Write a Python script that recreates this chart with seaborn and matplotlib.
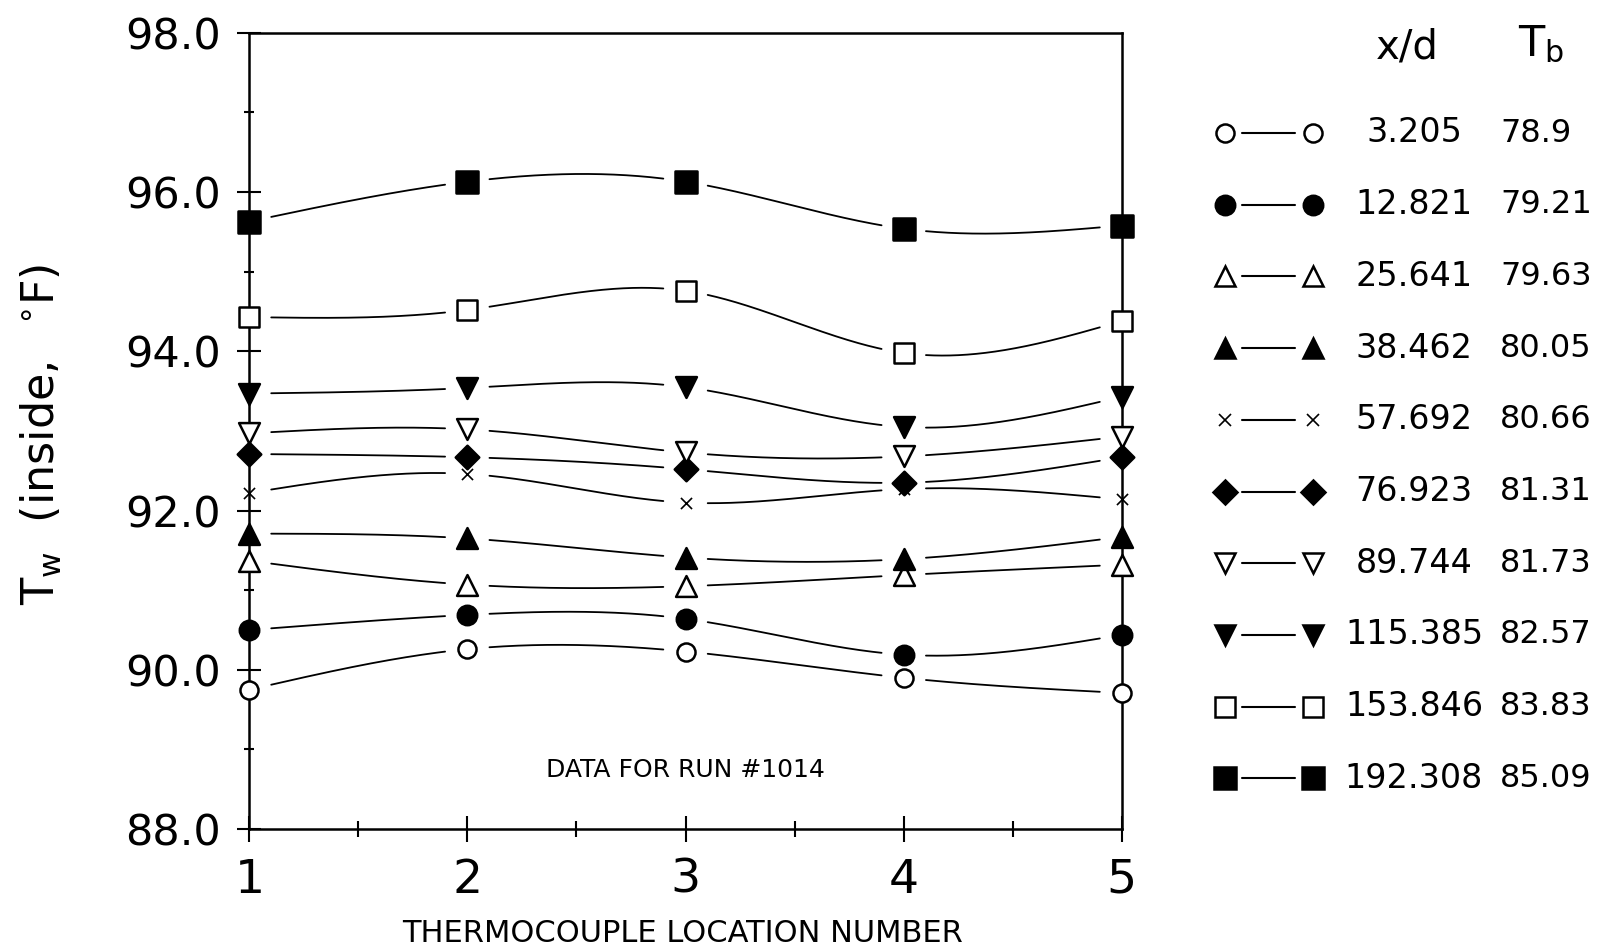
import numpy as np
import matplotlib
matplotlib.use("Agg")
import matplotlib.pyplot as plt
import seaborn as sns
from matplotlib import font_manager

# ---- data -------------------------------------------------------------
locations = [1, 2, 3, 4, 5]
x_over_d = [3.205, 12.821, 25.641, 38.462, 57.692, 76.923, 89.744, 115.385, 153.846, 192.308]
t_bulk = [78.9, 79.21, 79.63, 80.05, 80.66, 81.31, 81.73, 82.57, 83.83, 85.09]

tw_3205 = [89.75, 90.26, 90.23, 89.90, 89.71]
tw_12821 = [90.50, 90.69, 90.64, 90.19, 90.44]
tw_25641 = [91.37, 91.07, 91.05, 91.19, 91.32]
tw_38462 = [91.71, 91.65, 91.41, 91.39, 91.67]
tw_57692 = [92.22, 92.46, 92.10, 92.27, 92.14]
tw_76923 = [92.71, 92.67, 92.52, 92.35, 92.67]
tw_89744 = [92.97, 93.02, 92.73, 92.68, 92.93]
tw_115385 = [93.47, 93.54, 93.55, 93.05, 93.43]
tw_153846 = [94.43, 94.52, 94.76, 93.98, 94.38]
tw_192308 = [95.63, 96.13, 96.13, 95.54, 95.58]

y_ticks = [88.0, 90.0, 92.0, 94.0, 96.0, 98.0]

series = [tw_3205, tw_12821, tw_25641, tw_38462, tw_57692,
          tw_76923, tw_89744, tw_115385, tw_153846, tw_192308]

# marker, filled?, size (pt)
styles = [("o", False, 13), ("o", True, 14), ("^", False, 15), ("^", True, 15),
          ("x", True, 8), ("D", True, 12), ("v", False, 15), ("v", True, 15),
          ("s", False, 15), ("s", True, 16)]

# ---- style ------------------------------------------------------------
sns.set_theme(style="white")
names = set(font_manager.get_font_names())
narrow = "Liberation Sans Narrow" if "Liberation Sans Narrow" in names else "DejaVu Sans"
plt.rcParams["font.family"] = ["DejaVu Sans"]
plt.rcParams["mathtext.fontset"] = "dejavusans"


def natural_cubic(x, y, xs):
    x = np.asarray(x, float)
    y = np.asarray(y, float)
    n = len(x)
    h = np.diff(x)
    A = np.zeros((n, n))
    b = np.zeros(n)
    A[0, 0] = A[-1, -1] = 1.0
    for i in range(1, n - 1):
        A[i, i - 1] = h[i - 1]
        A[i, i] = 2 * (h[i - 1] + h[i])
        A[i, i + 1] = h[i]
        b[i] = 6 * ((y[i + 1] - y[i]) / h[i] - (y[i] - y[i - 1]) / h[i - 1])
    M = np.linalg.solve(A, b)
    idx = np.clip(np.searchsorted(x, xs) - 1, 0, n - 2)
    x0, x1 = x[idx], x[idx + 1]
    hh = x1 - x0
    t0, t1 = x1 - xs, xs - x0
    return ((M[idx] * t0 ** 3 + M[idx + 1] * t1 ** 3) / (6 * hh)
            + (y[idx] / hh - M[idx] * hh / 6) * t0
            + (y[idx + 1] / hh - M[idx + 1] * hh / 6) * t1)


fig = plt.figure(figsize=(16.09, 9.51), dpi=100)
fig.patch.set_facecolor("white")
ax = fig.add_axes([0.1550, 0.1282, 0.5421, 0.8373])

xs = np.linspace(1, 5, 1200)
gap = np.min(np.abs(xs[:, None] - np.array(locations)[None, :]), axis=1) < 0.1

for vals, (mk, filled, ms) in zip(series, styles):
    curve = natural_cubic(locations, vals, xs)
    curve[gap] = np.nan
    ax.plot(xs, curve, color="black", lw=1.3, zorder=2)
    if mk == "x":
        sns.scatterplot(x=locations, y=vals, marker=mk, s=ms ** 2, color="black",
                        linewidth=1.2, ax=ax, zorder=3)
    else:
        sns.scatterplot(x=locations, y=vals, marker=mk, s=ms ** 2,
                        color="black" if filled else "white",
                        edgecolor="black", linewidth=1.8, ax=ax, zorder=3)
    ax.collections[-1].set_clip_on(False)

ax.set_xlim(1, 5)
ax.set_ylim(88, 98)
ax.set_xticks(locations)
ax.set_xticklabels([str(v) for v in locations], fontfamily=narrow)
ax.set_xticks([1.5, 2.5, 3.5, 4.5], minor=True)
ax.set_yticks(y_ticks)
ax.set_yticklabels([f"{v:.1f}" for v in y_ticks])
ax.set_yticks([89, 91, 93, 95, 97], minor=True)

ax.tick_params(axis="both", which="both", direction="inout", width=1.5,
               color="black", labelcolor="black", bottom=True, left=True)
ax.tick_params(axis="y", which="major", length=17, pad=12, labelsize=31)
ax.tick_params(axis="y", which="minor", length=7)
ax.tick_params(axis="x", which="major", length=19, pad=11, labelsize=34)
ax.tick_params(axis="x", which="minor", length=12)
for sp in ax.spines.values():
    sp.set_color("black")
    sp.set_linewidth(1.8)
ax.grid(False)

ax.text(3.0, 88.74, "DATA FOR RUN #1014", ha="center", va="center",
        fontsize=18, color="black")

fig.text(41 / 1609, 1 - 434 / 951, r"$\mathregular{T_w}$  (inside,  $^\circ\!$F)",
         rotation=90, ha="center", va="center", fontsize=32, color="black")
fig.text(683 / 1609, 1 - 934 / 951, "THERMOCOUPLE LOCATION NUMBER",
         ha="center", va="center", fontsize=25 if narrow != "DejaVu Sans" else 22,
         fontfamily=narrow, color="black")

# ---- key panel on the right -----------------------------------------
key = fig.add_axes([0, 0, 1, 1], facecolor="none")
key.set_xlim(0, 1609)
key.set_ylim(951, 0)
key.axis("off")

key.text(1407, 47, "x/d", ha="center", va="center", fontsize=29, color="black")
key.text(1518, 44, r"$\mathregular{T_b}$", ha="left", va="center", fontsize=31, color="black")

row0, step = 133, 71.7
for i, ((mk, filled, ms), xd, tb) in enumerate(zip(styles, x_over_d, t_bulk)):
    yy = row0 + i * step
    key.plot([1242, 1295], [yy, yy], color="black", lw=1.5)
    if mk == "x":
        key.plot([1225, 1313], [yy, yy], ls="none", marker=mk, ms=ms,
                 mec="black", mew=1.2)
    else:
        key.plot([1225, 1313], [yy, yy], ls="none", marker=mk, ms=ms,
                 mfc="black" if filled else "white", mec="black", mew=1.8)
    key.text(1414, yy, str(xd), ha="center", va="center", fontsize=24, color="black")
    key.text(1500, yy, str(tb), ha="left", va="center", fontsize=23, color="black")

fig.savefig("out.png", dpi=100, facecolor="white")
